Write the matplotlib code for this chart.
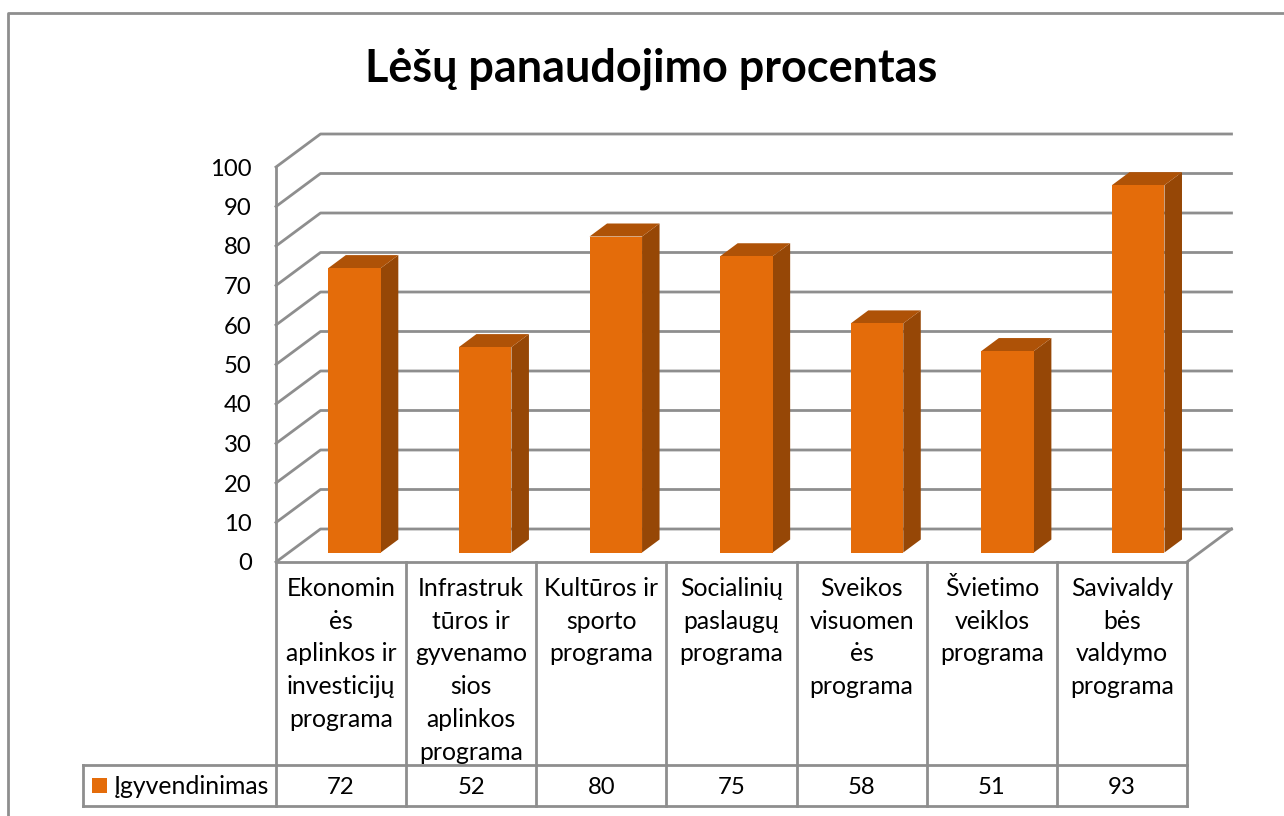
import matplotlib
matplotlib.use("Agg")
import matplotlib.pyplot as plt
from matplotlib.patches import Polygon, Rectangle
from matplotlib.transforms import Affine2D, blended_transform_factory, IdentityTransform

title = "Lėšų panaudojimo procentas"
series_name = "Įgyvendinimas"
categories = [
    ["Ekonomin", "ės", "aplinkos ir", "investicijų", "programa"],
    ["Infrastruk", "tūros ir", "gyvenamo", "sios", "aplinkos", "programa"],
    ["Kultūros ir", "sporto", "programa"],
    ["Socialinių", "paslaugų", "programa"],
    ["Sveikos", "visuomen", "ės", "programa"],
    ["Švietimo", "veiklos", "programa"],
    ["Savivaldy", "bės", "valdymo", "programa"],
]
values = [72, 52, 80, 75, 58, 51, 93]
y_ticks = list(range(0, 101, 10))

W, H = 1284, 816
GRID = "#8e8e8e"
FRONT, TOP, SIDE = "#E46C0A", "#AE5207", "#964706"
FONT = "Lato"
FS = 17.8
LW = 2.0

plt.rcParams["font.family"] = [FONT, "DejaVu Sans"]
fig = plt.figure(figsize=(W / 100, H / 100), dpi=100, facecolor="white")
ax = fig.add_axes([276 / W, (H - 562) / H, 911 / W, 395 / H])
ax.set_xlim(-0.5, len(values) - 0.5)
ax.set_ylim(0, 100)
ax.patch.set_alpha(0)
for s in ax.spines.values():
    s.set_visible(False)
ax.set_xticks([])
ax.set_yticks(y_ticks)
ax.tick_params(axis="y", length=0, pad=17.5, labelsize=17.2)

px = Affine2D().scale(1, -1).translate(0, H)   # pixel coords, y downward
data_x_px_y = blended_transform_factory(ax.transData, px)


def line(xs, ys, zorder=1):
    fig.add_artist(plt.Line2D(xs, ys, transform=px, color=GRID, lw=LW,
                              solid_capstyle="projecting", zorder=zorder))


# 3D wall: depth of the plot box in display pixels
DX, DY = 44.5, 33
for v in y_ticks:
    xl, yv = ax.transData.transform((-0.5, v))
    xr, _ = ax.transData.transform((len(values) - 0.5, v))
    ax.plot([xl, xl + DX, xr + DX], [yv, yv + DY, yv + DY], transform=IdentityTransform(),
            color=GRID, lw=LW, clip_on=False, zorder=1)
x0, y0 = ax.transData.transform((len(values) - 0.5, 0))
ax.plot([x0, x0 + DX], [y0, y0 + DY], transform=IdentityTransform(), color=GRID, lw=LW,
        clip_on=False, zorder=1)
ax.plot([-0.5, -0.5], [0, 100], color=GRID, lw=LW, clip_on=False, zorder=1.5)

# Bars: a slight perspective widening of the category spacing plus a shift into the box
BDX, BDY = 13.5, 9.5        # front-face shift from front plane
SDX, SDY = 17.5, 13         # bar depth
BW = 0.402
anchor = ax.transData.transform((0, 0))[0]
front_tr = ax.transData + Affine2D().translate(-anchor, 0).scale(1.0036, 1).translate(anchor + BDX, BDY)
ax.bar(range(len(values)), values, width=BW, color=FRONT, transform=front_tr,
       clip_on=False, zorder=4, linewidth=0)
for i, v in enumerate(values):
    (xl, yb), (xr, yt) = front_tr.transform([(i - BW / 2, 0), (i + BW / 2, v)])
    ax.add_patch(Polygon([(xr, yb), (xr + SDX, yb + SDY), (xr + SDX, yt + SDY), (xr, yt)],
                         closed=True, fc=SIDE, ec="none", transform=IdentityTransform(),
                         clip_on=False, zorder=3))
    ax.add_patch(Polygon([(xl, yt), (xl + SDX, yt + SDY), (xr + SDX, yt + SDY), (xr, yt)],
                         closed=True, fc=TOP, ec="none", transform=IdentityTransform(),
                         clip_on=False, zorder=3))

# Chart border (left and top only are in the crop)
line([8, 8, W], [H, 13, 13])

# Data table
T_TOP, T_MID, T_BOT, T_LEFT, T_RIGHT = 562, 765, 806, 83, 1187
line([276, T_RIGHT], [T_TOP, T_TOP], zorder=2)
line([T_LEFT, T_RIGHT], [T_MID, T_MID])
line([T_LEFT, T_RIGHT], [T_BOT, T_BOT])
line([T_LEFT, T_LEFT], [T_MID, T_BOT])
for k in range(len(values) + 1):
    xk = ax.transData.transform((k - 0.5, 0))[0]
    line([xk, xk], [T_TOP, T_BOT])

for i, (lines, v) in enumerate(zip(categories, values)):
    for j, t in enumerate(lines):
        ax.text(i, 596 + 32.7 * j, t, transform=data_x_px_y, ha="center", va="baseline",
                fontsize=FS, color="black", clip_on=False)
    ax.text(i, 794, str(v), transform=data_x_px_y, ha="center", va="baseline",
            fontsize=17.2, color="black", clip_on=False)

fig.add_artist(Rectangle((92, 778), 15, 15, transform=px, fc=FRONT, ec="none"))
fig.text(114, 794, series_name, transform=px, ha="left", va="baseline", fontsize=FS, color="black")
fig.text(651, 81, title, transform=px, ha="center", va="baseline", fontsize=32.4, fontweight="bold",
         color="black")

fig.savefig("out.png", dpi=100, facecolor="white")
